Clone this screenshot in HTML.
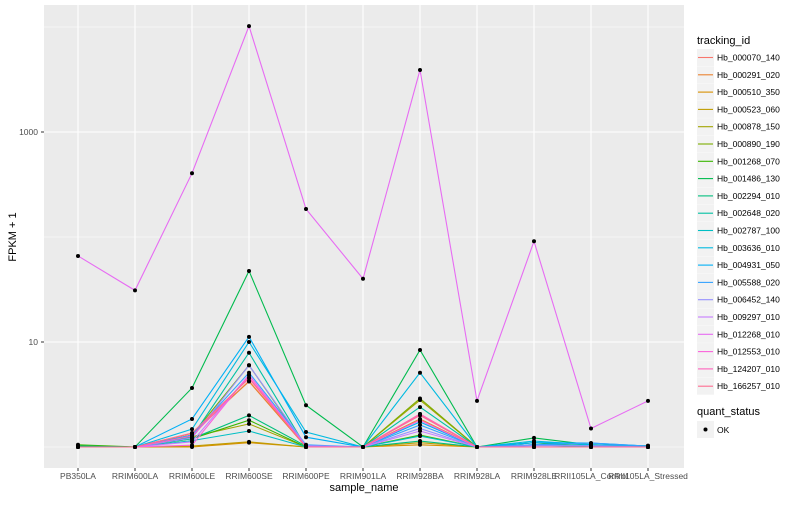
<!DOCTYPE html>
<html><head><meta charset="utf-8"><style>
body{margin:0;background:#fff;font-family:"Liberation Sans",sans-serif}
svg text{font-family:"Liberation Sans",sans-serif}
</style></head><body>
<svg id="chart" width="800" height="500" xmlns="http://www.w3.org/2000/svg">
<rect x="0" y="0" width="800" height="500" fill="#fff"/>
<rect x="44" y="5" width="640" height="463" fill="#EBEBEB"/>
<g id="grid"></g>
<g id="series"></g>
<g id="axes"></g>
<text x="364" y="491" font-size="11" text-anchor="middle">sample_name</text>
<text transform="translate(16,237) rotate(-90)" font-size="11" text-anchor="middle">FPKM + 1</text>
<g id="legend"></g>
</svg>
<script>
const categories=["PB350LA","RRIM600LA","RRIM600LE","RRIM600SE","RRIM600PE","RRIM901LA","RRIM928BA","RRIM928LA","RRIM928LE","RRII105LA_Control","RRII105LA_Stressed"];
const seriesNames=["Hb_000070_140","Hb_000291_020","Hb_000510_350","Hb_000523_060","Hb_000878_150","Hb_000890_190","Hb_001268_070","Hb_001486_130","Hb_002294_010","Hb_002648_020","Hb_002787_100","Hb_003636_010","Hb_004931_050","Hb_005588_020","Hb_006452_140","Hb_009297_010","Hb_012268_010","Hb_012553_010","Hb_124207_010","Hb_166257_010"];
const s0=[1,1,1.3,4.25,1,1,2.06,1,1,1,1];
const s1=[1,1,1.35,4.2,1,1,1.85,1,1,1,1];
const s2=[1,1,1.0,1.1,1,1,1.05,1,1,1,1];
const s3=[1,1,1.02,1.12,1,1,1.1,1,1,1,1];
const s4=[1,1,1.25,1.66,1,1,2.8,1,1,1,1];
const s5=[1,1,1.3,6.0,1,1,2.9,1,1,1,1];
const s6=[1.05,1,1.2,1.8,1,1,1.3,1,1.1,1,1.03];
const s7=[1.02,1,3.65,47.5,2.5,1,8.4,1,1.22,1.05,1.02];
const s8=[1.02,1,1.2,2.0,1.02,1,1.14,1,1.1,1.05,1.02];
const s9=[1,1,1.25,7.9,1,1,2.4,1,1.05,1,1];
const s10=[1,1,1.15,1.42,1,1,1.27,1,1.05,1.03,1];
const s11=[1,1,1.48,10,1.39,1,5.1,1,1.14,1.05,1.02];
const s12=[1,1,1.85,11.2,1.24,1,1.73,1,1.1,1.09,1.02];
const s13=[1,1,1.3,5.1,1.05,1,1.62,1,1.05,1.09,1.02];
const s14=[1,1,1.22,6.0,1.03,1,1.5,1,1.03,1.03,1];
const s15=[1,1,1.12,4.85,1.02,1,1.42,1,1,1,1];
const s16=[66,31,405,10200,185,40,3900,2.75,91,1.5,2.75];
const s17=[1,1,1.04,4.85,1,1,1.8,1,1,1,1];
const s18=[1,1,1.27,4.6,1,1,2.06,1,1,1,1];
const s19=[1,1,1.36,4.5,1,1,2.0,1,1,1,1];
const seriesValues=[s0,s1,s2,s3,s4,s5,s6,s7,s8,s9,s10,s11,s12,s13,s14,s15,s16,s17,s18,s19];
const yTicks=[10,1000];
const yMinor=[1,100,10000];
const colors=["#F8766D","#EA8331","#D89000","#C09B00","#A3A500","#7CAE00","#39B600","#00BB4E","#00BF7D","#00C1A3","#00BFC4","#00BAE0","#00B0F6","#35A2FF","#9590FF","#C77CFF","#E76BF3","#FA62DB","#FF62BC","#FF6C91"];
const NS="http://www.w3.org/2000/svg";
function xs(i){return 78+i*57;}
function ys(v){return 447-Math.log10(v)*105;}
function mk(tag,attrs,parent){const e=document.createElementNS(NS,tag);for(const k in attrs)e.setAttribute(k,attrs[k]);parent.appendChild(e);return e;}
const grid=document.getElementById('grid'),axes=document.getElementById('axes'),ser=document.getElementById('series'),leg=document.getElementById('legend');
yMinor.forEach(v=>{const y=ys(v);if(y<5||y>468)return;const l=mk('line',{x1:44,x2:684,y1:y,y2:y,stroke:'#fff','stroke-width':0.6},grid);

});
yTicks.forEach(v=>{const y=ys(v);const l=mk('line',{x1:44,x2:684,y1:y,y2:y,stroke:'#fff','stroke-width':1.1},grid);


mk('line',{x1:41,x2:44,y1:y,y2:y,stroke:'#333','stroke-width':1},axes);
const t=mk('text',{x:38,y:y+3,'font-size':8.5,'text-anchor':'end',fill:'#4D4D4D'},axes);t.textContent=String(v);

});
categories.forEach((c,i)=>{const x=xs(i);const l=mk('line',{x1:x,x2:x,y1:5,y2:468,stroke:'#fff','stroke-width':1.1},grid);


mk('line',{x1:x,x2:x,y1:468,y2:471,stroke:'#333','stroke-width':1},axes);
const t=mk('text',{x:x,y:479,'font-size':8.5,'text-anchor':'middle',fill:'#4D4D4D'},axes);t.textContent=c;

});
seriesValues.forEach((vals,si)=>{const pts=vals.map((v,i)=>xs(i)+','+ys(v)).join(' ');
const p=mk('polyline',{points:pts,fill:'none',stroke:colors[si],'stroke-width':1.1},ser);

});
seriesValues.forEach((vals,si)=>{vals.forEach((v,i)=>{const c=mk('circle',{cx:xs(i),cy:ys(v),r:2,fill:'#000'},ser);

});});
let t=mk('text',{x:697,y:44,'font-size':11},leg);t.textContent='tracking_id';


seriesNames.forEach((n,i)=>{const y=49+i*17.3;
const g=mk('g',{},leg);


mk('rect',{x:697,y:y,width:17,height:17,fill:'#F2F2F2'},g);
mk('line',{x1:698,x2:713,y1:y+8.5,y2:y+8.5,stroke:colors[i],'stroke-width':1.1},g);
const tx=mk('text',{x:717,y:y+11.5,'font-size':8.5},g);tx.textContent=n;});
t=mk('text',{x:697,y:415,'font-size':11},leg);t.textContent='quant_status';


const g2=mk('g',{},leg);


mk('rect',{x:697,y:421,width:17,height:17,fill:'#F2F2F2'},g2);
mk('circle',{cx:705.5,cy:429.5,r:2,fill:'#000'},g2);
const ok=mk('text',{x:717,y:433,'font-size':8.5},g2);ok.textContent='OK';
</script>
</body></html>
